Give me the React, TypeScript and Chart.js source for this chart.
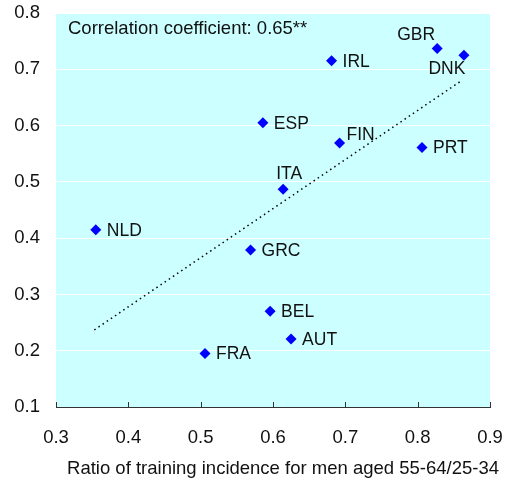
import React, { useEffect, useRef } from 'react';
import { Chart, registerables } from 'chart.js';

Chart.register(...registerables);

// ---- data ----
const countries = ['NLD', 'FRA', 'GRC', 'BEL', 'AUT', 'ITA', 'ESP', 'FIN', 'IRL', 'GBR', 'DNK', 'PRT'];
const ratioMen = [0.355, 0.506, 0.569, 0.596, 0.625, 0.614, 0.586, 0.692, 0.681, 0.827, 0.864, 0.806];
const outcome = [0.415, 0.195, 0.379, 0.270, 0.221, 0.487, 0.605, 0.569, 0.715, 0.737, 0.725, 0.561];
const trendX = [0.353, 0.862];
const trendY = [0.237, 0.681];
const xTickValues = [0.3, 0.4, 0.5, 0.6, 0.7, 0.8, 0.9];
const annotationText = 'Correlation coefficient: 0.65**';
const xAxisTitle = 'Ratio of training incidence for men aged 55-64/25-34';

// label placement relative to the marker: [dx, dy, align]
const labelPlacement: Record<string, [number, number, CanvasTextAlign]> = {
  GBR: [-21, -13, 'center'],
  DNK: [-17, 14, 'center'],
  ITA: [6, -15, 'center'],
  FIN: [7, -8, 'left'],
};

const FONT = '"Liberation Sans", Arial, Helvetica, sans-serif';

const overlayPlugin = {
  id: 'overlay',
  beforeDraw(chart: any) {
    const { ctx, chartArea } = chart;
    ctx.save();
    ctx.fillStyle = '#CCFFFF';
    ctx.fillRect(chartArea.left, chartArea.top, chartArea.right - chartArea.left, chartArea.bottom - chartArea.top);
    ctx.restore();
  },
  afterDraw(chart: any) {
    const { ctx, chartArea, scales } = chart;
    ctx.save();
    // inward tick marks on x axis
    ctx.strokeStyle = '#333';
    ctx.lineWidth = 1;
    xTickValues.forEach((v) => {
      const px = Math.round(scales.x.getPixelForValue(v)) + 0.5;
      ctx.beginPath();
      ctx.moveTo(px, chartArea.bottom);
      ctx.lineTo(px, chartArea.bottom - 5);
      ctx.stroke();
    });
    // point labels
    const meta = chart.getDatasetMeta(0);
    ctx.fillStyle = '#111';
    ctx.font = `17.5px ${FONT}`;
    ctx.textBaseline = 'middle';
    meta.data.forEach((pt: any, i: number) => {
      const name = countries[i];
      const place = labelPlacement[name] || [11, 1, 'left'];
      ctx.textAlign = place[2];
      ctx.fillText(name, pt.x + place[0], pt.y + place[1]);
    });
    // annotation
    ctx.font = `18.5px ${FONT}`;
    ctx.textAlign = 'left';
    ctx.fillText(annotationText, chartArea.left + 12, chartArea.top + 16);
    // axis title
    ctx.textAlign = 'center';
    ctx.fillText(xAxisTitle, 283, chartArea.bottom + 62);
    ctx.restore();
  },
};

export default function App() {
  const ref = useRef<HTMLCanvasElement>(null);
  useEffect(() => {
    if (!ref.current) return;
    const chart = new Chart(ref.current, {
      type: 'scatter',
      data: {
        datasets: [
          {
            label: 'Countries',
            data: countries.map((_, i) => ({ x: ratioMen[i], y: outcome[i] })),
            backgroundColor: '#0000FF',
            borderColor: '#0000FF',
            pointStyle: 'rectRot',
            pointRadius: 5.5,
            pointBorderWidth: 0,
            showLine: false,
          },
          {
            label: 'Trend',
            data: trendX.map((x, i) => ({ x, y: trendY[i] })),
            showLine: true,
            borderColor: '#000',
            borderWidth: 1.5,
            borderDash: [1.5, 3.5],
            pointRadius: 0,
            fill: false,
          },
        ],
      },
      options: {
        animation: false,
        responsive: false,
        maintainAspectRatio: false,
        layout: { padding: { top: 13, right: 19, left: 0, bottom: 0 } },
        plugins: { legend: { display: false }, tooltip: { enabled: false } },
        scales: {
          x: {
            type: 'linear',
            min: 0.3,
            max: 0.9,
            afterFit: (s: any) => { s.height = 73; s.paddingLeft = 0; s.paddingRight = 0; },
            ticks: {
              stepSize: 0.1,
              color: '#111',
              font: { family: FONT, size: 18.5 },
              padding: 20,
              callback: (v: any) => Number(v).toFixed(1),
            },
            grid: { display: true, drawOnChartArea: false, drawTicks: false, color: 'rgba(0,0,0,0)' },
            border: { display: true, color: '#333', width: 1 },
          },
          y: {
            type: 'linear',
            min: 0.1,
            max: 0.8,
            afterFit: (s: any) => { s.width = 56; s.paddingTop = 0; s.paddingBottom = 0; },
            ticks: {
              stepSize: 0.1,
              color: '#111',
              font: { family: FONT, size: 18.5 },
              padding: 16,
              callback: (v: any) => Number(v).toFixed(1),
            },
            grid: { color: '#FFFFFF', lineWidth: 1, drawTicks: false },
            border: { display: false },
          },
        },
      },
      plugins: [overlayPlugin],
    });
    return () => chart.destroy();
  }, []);
  return (
    <div style={{ position: 'fixed', left: 0, top: 0, width: 509, height: 480, background: '#fff' }}>
      <canvas ref={ref} width={509} height={480} style={{ width: 509, height: 480 }} />
    </div>
  );
}
